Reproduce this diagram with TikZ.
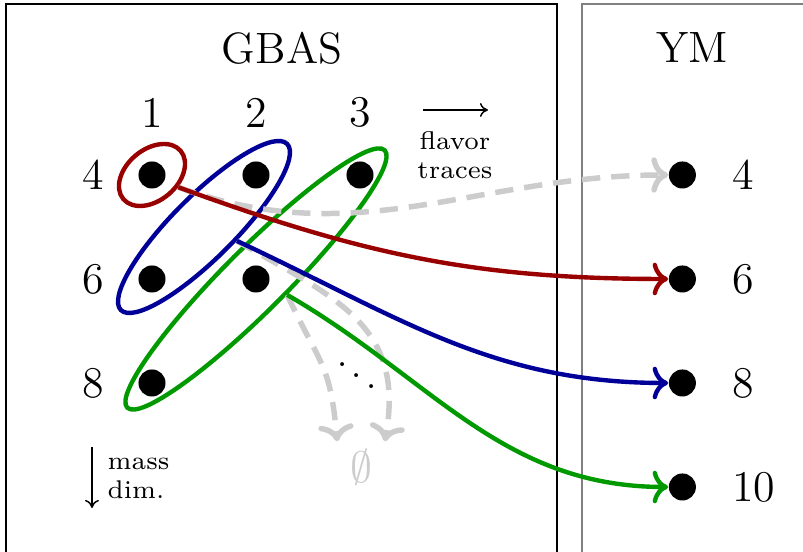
\documentclass[tikz,border=0pt]{standalone}
\usetikzlibrary{arrows.meta,positioning,shapes.geometric}
\usepackage{amsmath}

\begin{document}
\begin{tikzpicture}[line width=0.4pt,>={To},node distance=0.2cm,
  dot/.style={circle,fill,inner sep=0pt,minimum size=0.26cm},
  lbl/.style={font=\large},
  grp/.style={draw,ellipse,line width=1.2pt,inner sep=0pt},
  map/.style={->,line width=1.2pt},
  triv/.style={-{To[length=4.6pt]},line width=1.5pt,black!20,dash pattern=on 5pt off 3pt},
  legarrow/.style={-{To[length=2.2pt,width=3.8pt]}}]
\useasboundingbox (-1.4615,-3.625) rectangle (6.2596,1.6827);
% ---- frames ----
\draw (-1.404,-4) rectangle (3.894,1.644);
\draw[gray] (4.135,-4) rectangle (6.4,1.644);
\node[lbl] (gbas) at (1.25,1.221) {GBAS};
\node[lbl] (ym) at (5.197,1.221) {YM};
% ---- GBAS: operators by number of traces and mass dimension ----
\foreach \n/\x/\y in {41/0/0, 42/1/0, 43/2/0, 61/0/-1, 62/1/-1, 81/0/-2}
  \node[dot] (g\n) at (\x,\y) {};
\foreach \c in {1,2,3}
  \node[lbl,above=of g4\c] (c\c) {\c};
\foreach \r in {4,6,8}
  \node[lbl,left=of g\r1] (r\r) {\r};
% ---- YM: one column ----
\foreach \n/\y in {4/0, 6/-1, 8/-2, 10/-3}{
  \node[dot] (y\n) at (5.1,\y) {};
  \node[lbl,right=0.22cm of y\n] (yl\n) {\n};
}
% ---- groups ----
\node[grp,red!60!black,rotate=40,minimum width=0.72cm,minimum height=0.49cm] (e1) at (g41) {};
\node[grp,blue!60!black,rotate=45,minimum width=2.26cm,minimum height=0.6cm] (e2) at (0.5,-0.5) {};
\node[grp,green!60!black,rotate=45,minimum width=3.5cm,minimum height=0.6cm] (e3) at (g62) {};
\node[lbl,text=black!20,inner ysep=2pt] (empty) at (2.01,-2.808) {$\emptyset$};
\node[anchor=base] (dd) at (1.97,-2.09) {$\ddots$};
% ---- maps ----
\draw[triv] (e1.-65) to[out=-20,in=180] (y4);
\draw[triv] (e2.-68) to[out=-30,in=80,looseness=1.2] (empty.north east);
\draw[triv] (e3.-72) to[out=-65,in=95,looseness=1.3] (empty.north west);
\draw[map,red!60!black] (e1.-65) to[out=-20,in=180] (y6);
\draw[map,blue!60!black] (e2.-68) to[out=-25,in=180] (y8);
\draw[map,green!60!black] (e3.-72) to[out=-30,in=180] (y10);
% ---- legend ----
\coordinate (fa) at (2.606,0.625);
\coordinate (fb) at (3.231,0.625);
\draw[legarrow] (fa) -- (fb);
\node[font=\scriptsize,align=center] (flav) at (2.913,0.192) {flavor\\traces};
\coordinate (ma) at (-0.577,-2.615);
\coordinate (mb) at (-0.577,-3.202);
\draw[legarrow] (ma) -- (mb);
\node[font=\scriptsize,align=left,anchor=west] (mass) at (-0.55,-2.918) {mass\\dim.};
\end{tikzpicture}
\end{document}
